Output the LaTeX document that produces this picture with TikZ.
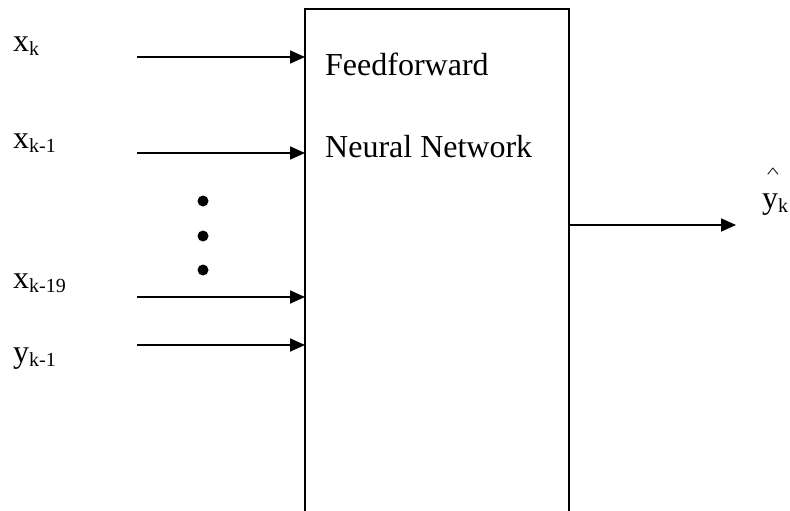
\documentclass[tikz,border=0pt]{standalone}
\usepackage{fontspec}
\setmainfont{Liberation Serif}
\usetikzlibrary{arrows.meta}
\newcommand\mainsz{\fontsize{32}{32}\selectfont}
\newcommand\subsz{\fontsize{20}{20}\selectfont}
% variable with a lowered subscript
\newcommand\var[2]{{\mainsz #1}\raisebox{-4pt}{\subsz #2}}
\tikzset{
  wire/.style={line width=1.8pt, -{Triangle[length=15pt,width=13pt]}},
  lbl/.style={inner sep=0pt, anchor=base west},
  dotmark/.style={circle, fill=black, inner sep=0pt, minimum size=11pt},
  netbox/.style={draw, line width=1.8pt, inner sep=0pt, outer sep=0pt,
    minimum width=264pt, minimum height=531pt}
}
\begin{document}
\begin{tikzpicture}[x=1pt, y=-1pt]
  \useasboundingbox (0,0) rectangle (790,511);
  \fill[white] (0,0) rectangle (790,511);
  \clip (0,0) rectangle (790,511);

  % network block, open at the lower edge of the sheet
  \node[netbox] (nn) at (437,274.5) {};
  \node[lbl] (t1) at (325,75) {\mainsz Feedforward};
  \node[lbl] (t2) at (325,157) {\mainsz Neural Network};

  % input labels
  \node[lbl] (lx0)  at (13,52)  {\var{x}{k}};
  \node[lbl] (lx1)  at (13,148) {\var{x}{k-1}};
  \node[lbl] (lx19) at (13,288) {\var{x}{k-19}};
  \node[lbl] (ly1)  at (13,362) {\var{y}{k-1}};

  % input wires
  \coordinate (i0)  at (137,57);
  \coordinate (i1)  at (137,153);
  \coordinate (i19) at (137,297);
  \coordinate (iy)  at (137,345);
  \foreach \c in {i0,i1,i19,iy}
    \draw[wire] (\c) -- (\c -| nn.west);

  % ellipsis
  \node[dotmark] (d1) at (203,201) {};
  \node[dotmark] (d2) at (203,236) {};
  \node[dotmark] (d3) at (203,270) {};

  % output
  \coordinate (out) at (736,225);
  \draw[wire] (nn.east |- out) -- (out);
  \node[lbl] (ly) at (762,208) {\var{y}{k}};
  \node[inner sep=0pt] (hat) at (773,173)
    {\scalebox{1}[0.55]{\fontsize{26}{26}\selectfont\textasciicircum}};
\end{tikzpicture}
\end{document}
